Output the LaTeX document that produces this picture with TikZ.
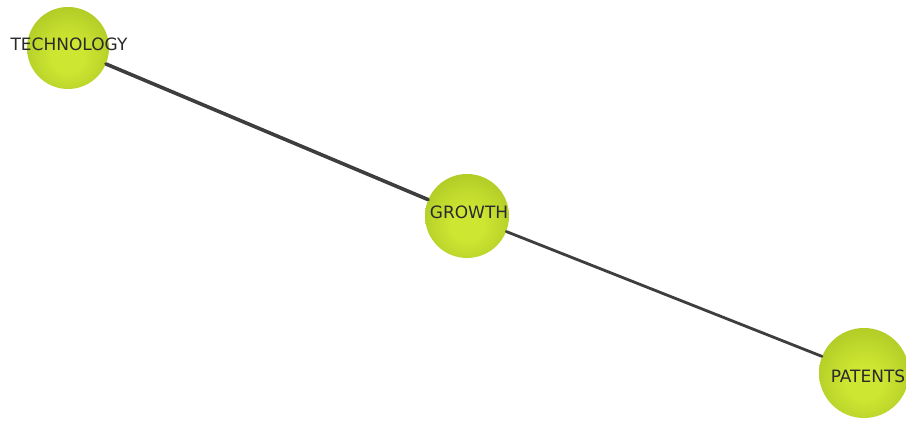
\documentclass[tikz,border=0pt]{standalone}
\usepackage{fontspec}
\setmainfont{DejaVu Sans}
\definecolor{ballhi}{HTML}{CDE632}
\definecolor{ballmid}{HTML}{B0CA26}
\definecolor{balldk}{HTML}{96B01A}
\definecolor{balllo}{HTML}{6E860E}
\definecolor{edgecol}{HTML}{3E3E3E}
\definecolor{txtcol}{HTML}{2A2A2A}
\pgfdeclareradialshading{nodeball}{\pgfpoint{0bp}{-6bp}}{%
  color(0bp)=(ballhi); color(10bp)=(ballhi); color(30bp)=(ballmid); color(44bp)=(balldk); color(52bp)=(balllo); color(60bp)=(balllo)}
\begin{document}
\begin{tikzpicture}[x=1pt,y=1pt,
  ball/.style={circle, draw=none, shading=nodeball, inner sep=0pt},
  lbl/.style={font=\fontsize{17}{19}\selectfont, text=txtcol, inner sep=0pt},
  link/.style={draw=edgecol, line cap=round}]
\useasboundingbox (0,0) rectangle (906,427);
\clip (0,0) rectangle (906,427);
\fill[white] (0,0) rectangle (906,427);
\node[ball, minimum size=82pt] (tech) at (68,379) {};
\node[ball, minimum size=84pt] (grow) at (467,211) {};
\node[ball, minimum size=90pt] (pat) at (864,54) {};
\draw[link, line width=3.6pt] (tech) -- (grow);
\draw[link, line width=2.8pt] (grow) -- (pat);
\node[lbl] (ltech) at (69,383) {TECHNOLOGY};
\node[lbl] (lgrow) at (469,215) {GROWTH};
\node[lbl] (lpat) at (868,51) {PATENTS};
\end{tikzpicture}
\end{document}
